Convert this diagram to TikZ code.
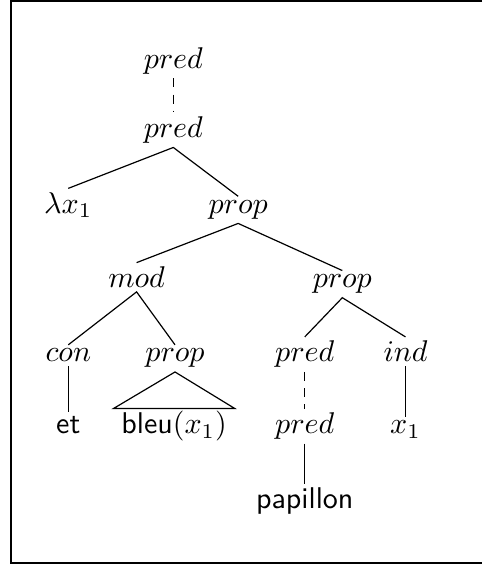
\documentclass[tikz,border=0pt]{standalone}
\usepackage{amsmath,amssymb}
\usepackage{tikz}
\usetikzlibrary{positioning}
\tikzset{
	cat/.style={inner sep=1.4pt, outer sep=0pt, anchor=base},
	wrd/.style={cat, font=\sffamily},
	roof/.style={wrd, inner xsep=2.6pt, inner ysep=0.9pt},
	brn/.style={line width=0.4pt},
	ellip/.style={brn, dash pattern=on 3pt off 2.4pt},
	frm/.style={line width=0.8pt},
}
\begin{document}
\begin{tikzpicture}[x=1cm, y=1cm]
				\useasboundingbox (0.00,0.00) rectangle (5.647,-6.607);
				\draw[frm] (5.647,-0.015) -- (0.13,-0.015) -- (0.13,-6.592) -- (5.647,-6.592);
				\node[cat] at (2.03,-0.80) (top) {$pred$};
				\node[cat] at (2.03,-1.61) (pd0) {$pred$};
				\node[cat] at (0.80,-2.50) (lam) {$\lambda x_1$};
				\node[cat] at (2.79,-2.50) (pr0) {$prop$};
				\node[cat] at (1.60,-3.37) (mod) {$mod$};
				\node[cat] at (4.01,-3.37) (pr1) {$prop$};
				\node[cat] at (0.80,-4.24) (con) {$con$};
				\node[cat] at (2.05,-4.24) (pr2) {$prop$};
				\node[cat] at (3.57,-4.24) (pd1) {$pred$};
				\node[cat] at (4.75,-4.24) (ind) {$ind$};
				\node[wrd] at (0.80,-5.08) (et) {et};
				\node[roof] at (2.04,-5.08) (bleu) {bleu$(x_1)$};
				\node[cat] at (3.57,-5.08) (pd2) {$pred$};
				\node[cat] at (4.75,-5.08) (var) {$x_1$};
				\node[wrd] at (3.57,-5.96) (pap) {papillon};
				\draw[ellip] (top.south) -- (pd0.north);
				\draw[brn] (lam.north) -- (pd0.south) -- (pr0.north);
				\draw[brn] (mod.north) -- (pr0.south) -- (pr1.north);
				\draw[brn] (con.north) -- (mod.south) -- (pr2.north);
				\draw[brn] (pd1.north) -- (pr1.south) -- (ind.north);
				\draw[brn] (con.south) -- (et.north);
				\draw[brn] (pr2.south) -- (bleu.north east) -- (bleu.north west) -- cycle;
				\draw[ellip] (pd1.south) -- (pd2.north);
				\draw[brn] (ind.south) -- (var.north);
				\draw[brn] (pd2.south) -- (pap.north);
			\end{tikzpicture}
\end{document}
